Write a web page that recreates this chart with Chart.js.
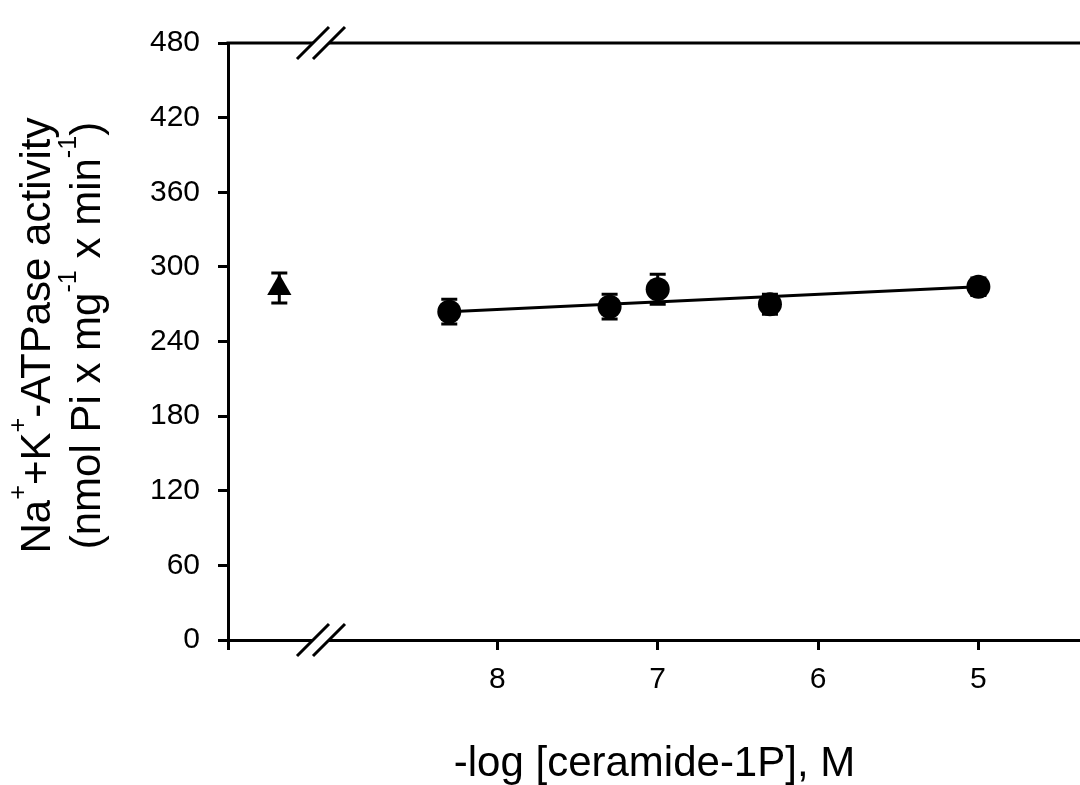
<!DOCTYPE html>
<html>
<head>
<meta charset="utf-8">
<script src="https://cdn.jsdelivr.net/npm/chart.js"></script>
<style>
  html, body { margin: 0; padding: 0; background: #fff; overflow: hidden; }
</style>
</head>
<body>
<canvas id="chart" width="1095" height="785"></canvas>
<script>
// -log [ceramide-1P] (M) and Na+,K+-ATPase activity
const concentration = [8.3, 7.3, 7.0, 6.3, 5.0];
const activity = [264, 268, 282, 270, 284];
const activityErr = [10, 10, 12, 8, 7];
// control (no ceramide-1P), placed left of the axis break
const controlX = [9.36];
const control = [283];
const controlErr = [12];
// linear fit
const fitX = [8.3, 5.0];
const fitY = [264, 284];
const xTicks = [8, 7, 6, 5];
const xRange = [4.36, 9.68];
const breakAt = 9.1;
const yMax = 480;
const yStep = 60;

const FONT = '"Liberation Sans", Arial, sans-serif';

function pts(xs, ys) {
    return xs.map((x, i) => ({ x: x, y: ys[i] }));
}

// error bars, drawn under the markers
const errorBars = {
    id: 'errorBars',
    beforeDatasetsDraw(chart) {
        const ctx = chart.ctx;
        const xs = chart.scales.x, ys = chart.scales.y;
        ctx.save();
        ctx.strokeStyle = '#000';
        ctx.lineWidth = 3;
        chart.data.datasets.forEach(ds => {
            if (!ds.err) return;
            ds.data.forEach((p, i) => {
                const px = xs.getPixelForValue(p.x);
                const top = ys.getPixelForValue(p.y + ds.err[i]);
                const bot = ys.getPixelForValue(p.y - ds.err[i]);
                ctx.beginPath();
                ctx.moveTo(px, top); ctx.lineTo(px, bot);
                ctx.moveTo(px - 8, top); ctx.lineTo(px + 8, top);
                ctx.moveTo(px - 8, bot); ctx.lineTo(px + 8, bot);
                ctx.stroke();
            });
        });
        ctx.restore();
    }
};

// top frame line, axis break marks and the two-line y title
function drawRich(ctx, parts, size) {
    let w = 0;
    parts.forEach(p => {
        ctx.font = (p.sup ? size * 0.6 : size) + 'px ' + FONT;
        p.w = ctx.measureText(p.t).width;
        w += p.w;
    });
    let x = -w / 2;
    parts.forEach(p => {
        ctx.font = (p.sup ? size * 0.6 : size) + 'px ' + FONT;
        ctx.fillText(p.t, x, p.sup ? -size * 0.56 : 0);
        x += p.w;
    });
}

const frame = {
    id: 'frame',
    afterDraw(chart) {
        const ctx = chart.ctx;
        const a = chart.chartArea;
        const bx = chart.scales.x.getPixelForValue(breakAt);
        ctx.save();
        ctx.strokeStyle = '#000';
        ctx.lineWidth = 3;
        ctx.beginPath();
        ctx.moveTo(a.left - 1.5, a.top);
        ctx.lineTo(a.right, a.top);
        ctx.stroke();
        [a.top, a.bottom].forEach(y => {
            ctx.fillStyle = '#fff';
            ctx.fillRect(bx - 8, y - 3, 16, 6);
            ctx.beginPath();
            [-8, 8].forEach(dx => {
                ctx.moveTo(bx + dx - 16, y + 16);
                ctx.lineTo(bx + dx + 16, y - 16);
            });
            ctx.stroke();
        });

        ctx.fillStyle = '#000';
        ctx.textBaseline = 'alphabetic';
        const cy = (a.top + a.bottom) / 2 - 6;
        ctx.translate(50, cy);
        ctx.rotate(-Math.PI / 2);
        drawRich(ctx, [
            { t: 'Na' }, { t: '+', sup: true }, { t: '+K' }, { t: '+', sup: true },
            { t: '-ATPase activity' }
        ], 42);
        ctx.translate(0, 50);
        drawRich(ctx, [
            { t: '(nmol Pi x mg' }, { t: '-1', sup: true }, { t: ' x min' },
            { t: '-1', sup: true }, { t: ')' }
        ], 42);
        ctx.restore();
    }
};

new Chart(document.getElementById('chart'), {
    type: 'scatter',
    data: {
        datasets: [
            {
                label: 'fit',
                data: pts(fitX, fitY),
                showLine: true,
                borderColor: '#000',
                borderWidth: 3,
                pointRadius: 0
            },
            {
                label: 'ceramide-1P',
                data: pts(concentration, activity),
                err: activityErr,
                pointStyle: 'circle',
                pointRadius: 12,
                backgroundColor: '#000',
                borderColor: '#000',
                borderWidth: 0
            },
            {
                label: 'control',
                data: pts(controlX, control),
                err: controlErr,
                pointStyle: 'triangle',
                pointRadius: 14,
                backgroundColor: '#000',
                borderColor: '#000',
                borderWidth: 0
            }
        ]
    },
    options: {
        responsive: false,
        animation: false,
        devicePixelRatio: 1,
        layout: { padding: { top: 43, right: 0, left: 0, bottom: 0 } },
        plugins: {
            legend: { display: false },
            tooltip: { enabled: false }
        },
        scales: {
            x: {
                type: 'linear',
                reverse: true,
                min: xRange[0],
                max: xRange[1],
                afterBuildTicks: scale => {
                    scale.ticks = [xRange[1]].concat(xTicks).map(v => ({ value: v }));
                },
                afterFit: scale => { scale.height = 145; },
                ticks: {
                    autoSkip: false,
                    maxRotation: 0,
                    padding: 12,
                    color: '#000',
                    font: { family: FONT, size: 30 },
                    callback: v => xTicks.includes(v) ? String(v) : ''
                },
                grid: {
                    drawOnChartArea: false,
                    drawTicks: true,
                    tickLength: 10,
                    tickWidth: 3,
                    tickColor: '#000'
                },
                border: { display: true, color: '#000', width: 3 },
                title: {
                    display: true,
                    text: '-log [ceramide-1P], M',
                    color: '#000',
                    font: { family: FONT, size: 42, lineHeight: 1.0 },
                    padding: 0
                }
            },
            y: {
                min: 0,
                max: yMax,
                afterFit: scale => { scale.width = 228; },
                ticks: {
                    stepSize: yStep,
                    padding: 18,
                    color: '#000',
                    font: { family: FONT, size: 30 }
                },
                grid: {
                    drawOnChartArea: false,
                    drawTicks: true,
                    tickLength: 10,
                    tickWidth: 3,
                    tickColor: '#000'
                },
                border: { display: true, color: '#000', width: 3 }
            }
        }
    },
    plugins: [errorBars, frame]
});
</script>
</body>
</html>
